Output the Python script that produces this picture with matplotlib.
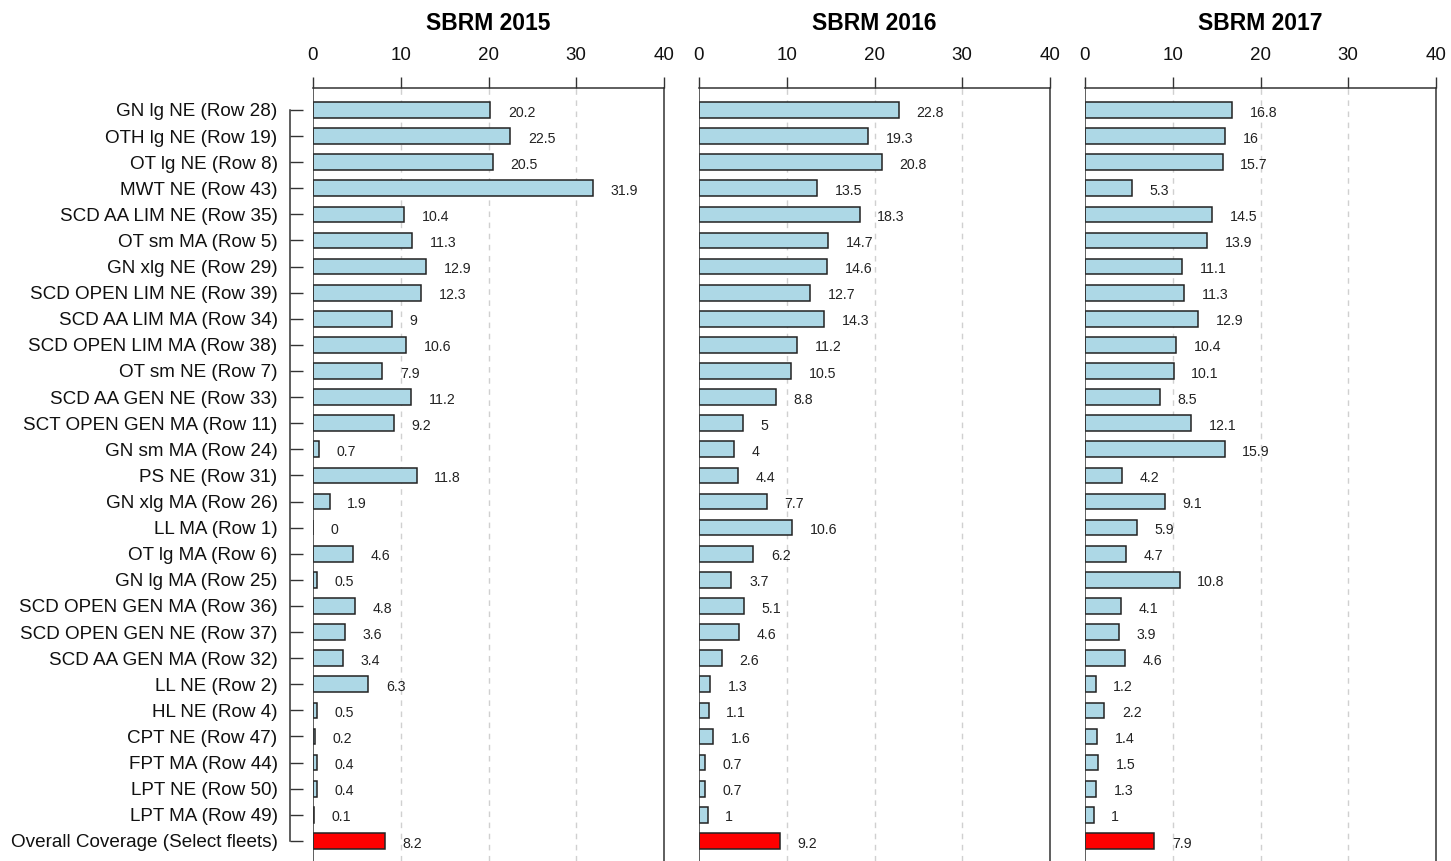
import numpy as np
import matplotlib.pyplot as plt

plt.rcParams["font.family"] = ["Liberation Sans", "DejaVu Sans"]

fleets = [
    "GN lg NE (Row 28)", "OTH lg NE (Row 19)", "OT lg NE (Row 8)", "MWT NE (Row 43)",
    "SCD AA LIM NE (Row 35)", "OT sm MA (Row 5)", "GN xlg NE (Row 29)",
    "SCD OPEN LIM NE (Row 39)", "SCD AA LIM MA (Row 34)", "SCD OPEN LIM MA (Row 38)",
    "OT sm NE (Row 7)", "SCD AA GEN NE (Row 33)", "SCT OPEN GEN MA (Row 11)",
    "GN sm MA (Row 24)", "PS NE (Row 31)", "GN xlg MA (Row 26)", "LL MA (Row 1)",
    "OT lg MA (Row 6)", "GN lg MA (Row 25)", "SCD OPEN GEN MA (Row 36)",
    "SCD OPEN GEN NE (Row 37)", "SCD AA GEN MA (Row 32)", "LL NE (Row 2)",
    "HL NE (Row 4)", "CPT NE (Row 47)", "FPT MA (Row 44)", "LPT NE (Row 50)",
    "LPT MA (Row 49)", "Overall Coverage (Select fleets)",
]
years = ["SBRM 2015", "SBRM 2016", "SBRM 2017"]
cov_2015 = [20.2, 22.5, 20.5, 31.9, 10.4, 11.3, 12.9, 12.3, 9, 10.6, 7.9, 11.2, 9.2,
            0.7, 11.8, 1.9, 0, 4.6, 0.5, 4.8, 3.6, 3.4, 6.3, 0.5, 0.2, 0.4, 0.4, 0.1, 8.2]
cov_2016 = [22.8, 19.3, 20.8, 13.5, 18.3, 14.7, 14.6, 12.7, 14.3, 11.2, 10.5, 8.8, 5,
            4, 4.4, 7.7, 10.6, 6.2, 3.7, 5.1, 4.6, 2.6, 1.3, 1.1, 1.6, 0.7, 0.7, 1, 9.2]
cov_2017 = [16.8, 16, 15.7, 5.3, 14.5, 13.9, 11.1, 11.3, 12.9, 10.4, 10.1, 8.5, 12.1,
            15.9, 4.2, 9.1, 5.9, 4.7, 10.8, 4.1, 3.9, 4.6, 1.2, 2.2, 1.4, 1.5, 1.3, 1, 7.9]
coverage = [cov_2015, cov_2016, cov_2017]

W, H = 1451, 861
fig = plt.figure(figsize=(W / 100, H / 100), dpi=100)

lefts = [313, 699, 1085]
pan_w = 351
top_px = 88
y = np.arange(len(fleets))
colors = ["lightblue"] * (len(fleets) - 1) + ["red"]

for k, (title, vals) in enumerate(zip(years, coverage)):
    ax = fig.add_axes([lefts[k] / W, 0, pan_w / W, (H - top_px) / H])
    ax.barh(y, vals, height=0.6, color=colors, edgecolor="#222222", linewidth=1.1, zorder=3)
    for yi, v in zip(y, vals):
        ax.text(v + 2, yi + 0.1, f"{v:g}", fontsize=10.2, color="#222222",
                ha="left", va="center", zorder=4)

    ax.set_xlim(0, 40)
    ax.set_ylim(28.77, -0.84)
    for gx in (10, 20, 30):
        ax.axvline(gx, color="#d0d0d0", linestyle=(0, (4, 4)), linewidth=1.0, zorder=1)
    ax.axvline(0, color="#333333", linewidth=1.1, zorder=5)

    ax.xaxis.tick_top()
    ax.set_xticks([0, 10, 20, 30, 40])
    ax.tick_params(axis="x", direction="out", length=8, width=1.0, pad=9,
                   labelsize=13.5, colors="#333333", labelcolor="#111111")
    ax.spines["bottom"].set_visible(False)
    ax.spines["top"].set_color("#333333")
    ax.spines["right"].set_color("#333333")
    ax.spines["top"].set_linewidth(1.1)
    ax.spines["right"].set_linewidth(1.1)
    ax.set_title(title, fontsize=16.5, fontweight="bold", pad=42)

    if k == 0:
        ax.spines["left"].set_position(("outward", 16.5))
        ax.spines["left"].set_bounds(0, len(fleets) - 1)
        ax.spines["left"].set_color("#333333")
        ax.spines["left"].set_linewidth(1.1)
        ax.set_yticks(y)
        ax.set_yticklabels(fleets)
        ax.tick_params(axis="y", direction="in", length=9, width=1.0, pad=9,
                       labelsize=13.6, colors="#333333", labelcolor="#111111")
    else:
        ax.spines["left"].set_visible(False)
        ax.set_yticks([])

fig.savefig("out.png", dpi=100)
